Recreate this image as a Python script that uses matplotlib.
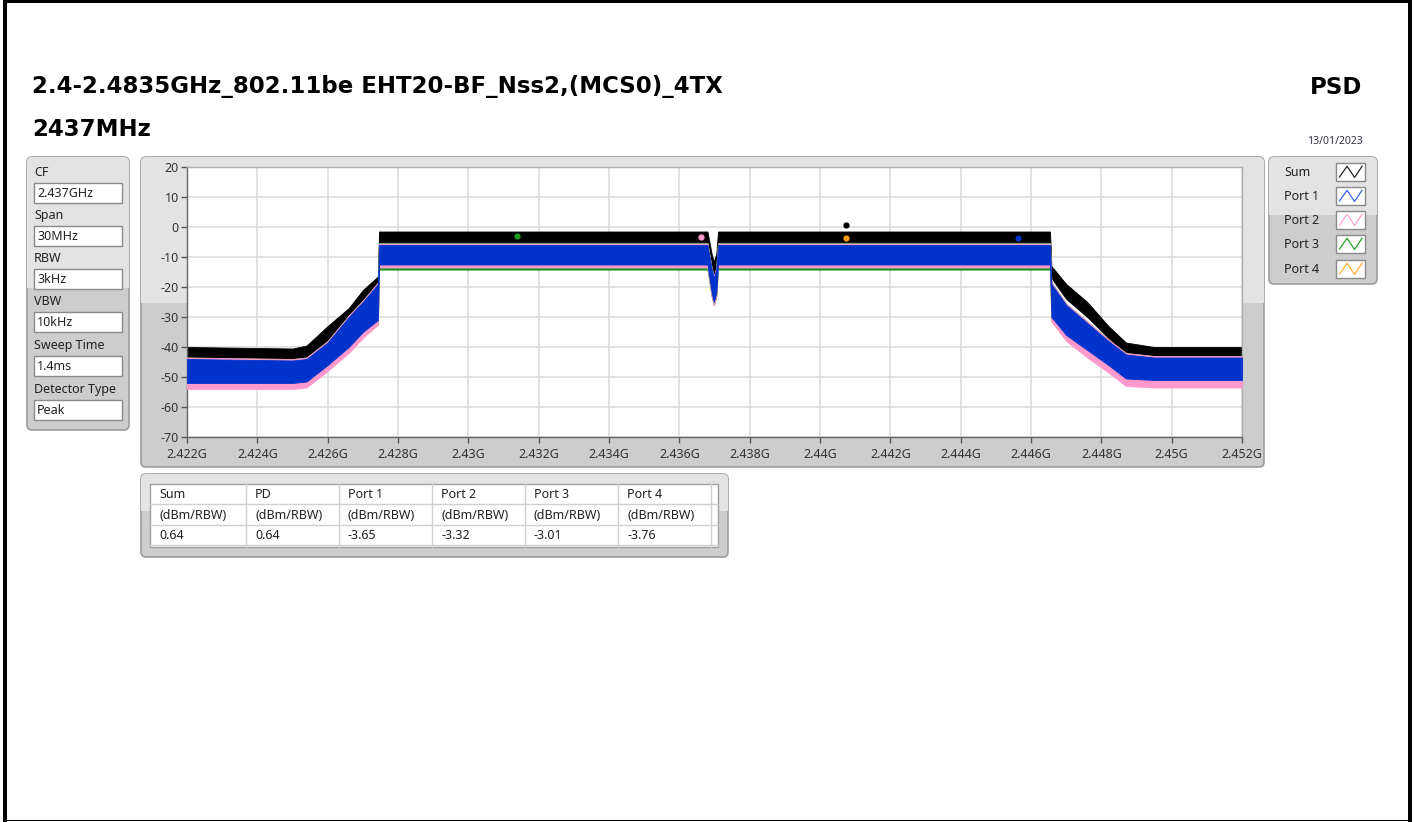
import matplotlib
matplotlib.use("Agg")
import matplotlib.pyplot as plt
from matplotlib.patches import FancyBboxPatch, Rectangle
import numpy as np

plt.rcParams['font.family'] = ['Noto Sans', 'DejaVu Sans']
plt.rcParams['axes.unicode_minus'] = False

W, H = 1415, 822

#########  data  #########
title1 = "2.4-2.4835GHz_802.11be EHT20-BF_Nss2,(MCS0)_4TX"
title2 = "2437MHz"
date_txt = "13/01/2023"

set_names = ["CF", "Span", "RBW", "VBW", "Sweep Time", "Detector Type"]
set_values = ["2.437GHz", "30MHz", "3kHz", "10kHz", "1.4ms", "Peak"]

trace_names = ["Sum", "Port 1", "Port 2", "Port 3", "Port 4"]

# envelope of each noisy trace (upper / lower, dBm) at frequency breakpoints (GHz)
freq_ghz = [2.4220, 2.4250, 2.4254, 2.4260, 2.4266, 2.4270, 2.42743, 2.42746, 2.4368,
            2.43692, 2.43698, 2.43705, 2.4371, 2.44654, 2.44658, 2.4470,
            2.4476, 2.4482, 2.4487, 2.4495, 2.4520]
sum_hi = [-40, -40.5, -39.5, -33, -27, -21, -16.5, -1.5, -1.5, -9, -11.5, -9, -1.5,
          -1.5, -13, -19, -25, -33, -38.5, -40, -40]
sum_lo = [-45.5, -45.5, -44.5, -38.5, -32, -26.5, -21.5, -5, -5, -14, -17, -14, -5,
          -5, -17, -24, -30, -37, -42.5, -44, -44]
p1_hi = [-44, -44.5, -44, -38.5, -30, -25, -19, -6, -6, -14, -17, -14, -6,
         -6, -19, -26, -32, -38, -42.5, -43.5, -43.5]
p1_lo = [-52, -52, -51.5, -46, -40, -35, -31, -12.5, -12.5, -22, -25, -22, -12.5,
         -12.5, -30, -36, -41, -46, -50.5, -51, -51]
p2_hi = [-43.5, -44, -43.5, -38, -29.5, -24.5, -18.5, -5.5, -5.5, -13.5, -16.5, -13.5, -5.5,
         -5.5, -18.5, -25.5, -31.5, -37.5, -42, -43, -43]
p2_lo = [-54, -54, -53.5, -48, -42, -37, -32.5, -13.5, -13.5, -23, -26, -23, -13.5,
         -13.5, -31.5, -38, -43.5, -48.5, -53, -53.5, -53.5]
p3_hi = [-43.5, -44, -43.5, -38, -29.5, -24.5, -18.5, -5.3, -5.3, -13.5, -16.5, -13.5, -5.3,
         -5.3, -18.5, -25.5, -31.5, -37.5, -42, -43, -43]
p3_lo = [-53, -53, -52.5, -47, -41, -36, -32, -14.2, -14.2, -23, -26, -23, -14.2,
         -14.2, -31, -37, -42.5, -47.5, -52, -52.5, -52.5]
p4_hi = [-44, -44.5, -44, -38.5, -30, -25, -19, -5.5, -5.5, -14, -17, -14, -5.5,
         -5.5, -19, -26, -32, -38, -42.5, -43.5, -43.5]
p4_lo = [-53.5, -53.5, -53, -47.5, -41.5, -36.5, -32.5, -14, -14, -23, -26, -23, -14,
         -14, -31.5, -37.5, -43, -48, -52.5, -53, -53]

# peak markers
peak_freq = [2.44073, 2.44564, 2.43663, 2.43137, 2.44073]
peak_val = [0.64, -3.65, -3.32, -3.01, -3.76]

# result table
tab_head = ["Sum", "PD", "Port 1", "Port 2", "Port 3", "Port 4"]
tab_unit = ["(dBm/RBW)"] * 6
tab_vals = ["0.64", "0.64", "-3.65", "-3.32", "-3.01", "-3.76"]

x_ticks = [2.422, 2.424, 2.426, 2.428, 2.43, 2.432, 2.434, 2.436, 2.438,
           2.44, 2.442, 2.444, 2.446, 2.448, 2.45, 2.452]
x_ticklabels = ["2.422G", "2.424G", "2.426G", "2.428G", "2.43G", "2.432G", "2.434G",
                "2.436G", "2.438G", "2.44G", "2.442G", "2.444G", "2.446G", "2.448G",
                "2.45G", "2.452G"]
y_ticks = [20, 10, 0, -10, -20, -30, -40, -50, -60, -70]

colors = ["#000000", "#0033cc", "#ff99cc", "#1a9a1a", "#ff9a1a"]
icon_colors = ["#222222", "#3a66e0", "#ffa3d4", "#2aa02a", "#ffaa33"]

#########  figure  #########
fig = plt.figure(figsize=(W / 100, H / 100), dpi=100)
bg = fig.add_axes([0, 0, 1, 1])
bg.set_xlim(0, W)
bg.set_ylim(H, 0)
bg.axis("off")

# outer frame
bg.add_patch(Rectangle((3, 0), 4, H, color="black", lw=0))
bg.add_patch(Rectangle((1408, 0), 4, H, color="black", lw=0))
bg.add_patch(Rectangle((3, 0.5), 1409, 2.5, color="black", lw=0))
bg.add_patch(Rectangle((3, 819.5), 1409, 1.5, color="black", lw=0))


def panel(x0, y0, x1, y1, split=0.47):
    p = FancyBboxPatch((x0, y0), x1 - x0, y1 - y0,
                       boxstyle="round,pad=0,rounding_size=5",
                       fc="#cdcdcd", ec="#9c9c9c", lw=1.2, zorder=1)
    bg.add_patch(p)
    top = Rectangle((x0, y0), x1 - x0, (y1 - y0) * split, fc="#e3e3e3", lw=0, zorder=1.1)
    bg.add_patch(top)
    top.set_clip_path(p)


# titles
tfont = dict(fontsize=16.5, fontweight="bold", family=["DejaVu Sans"])
bg.text(32, 87, title1, va="center", ha="left", **tfont)
bg.text(32, 130, title2, va="center", ha="left", **tfont)
bg.text(1362, 87, "PSD", va="center", ha="right", **tfont)
bg.text(1363, 141, date_txt, fontsize=7.5, va="center", ha="right", color="#333344")

# settings panel
panel(27, 157, 129, 430, split=0.48)
label_y = [172, 215, 258, 301, 345, 389]
for name, val, ly in zip(set_names, set_values, label_y):
    bg.text(34, ly, name, fontsize=9, va="center", ha="left", color="#222222", zorder=3)
    bg.add_patch(Rectangle((34, ly + 11), 88, 20, fc="white", ec="#8a8a8a", lw=1, zorder=2))
    bg.text(37, ly + 21.5, val, fontsize=9, va="center", ha="left", color="#222222", zorder=3)

# legend panel
panel(1269, 157, 1377, 284, split=0.46)
leg_y = [172, 196, 220, 244, 269]
for name, c, ly in zip(trace_names, icon_colors, leg_y):
    bg.text(1284, ly, name, fontsize=9, va="center", ha="left", color="#222222", zorder=3)
    bg.add_patch(Rectangle((1336, ly - 9), 29, 18, fc="white", ec="#8a8a8a", lw=1, zorder=2))
    zx = 1336 + np.array([0.12, 0.38, 0.64, 0.9]) * 29
    zy = ly + np.array([0.28, -0.32, 0.3, -0.32]) * 18
    bg.plot(zx, zy, color=c, lw=0.9, zorder=3)

# main plot panel
panel(141, 157, 1264, 467, split=0.47)

# table panel
panel(141, 474, 728, 557, split=0.45)
bg.add_patch(Rectangle((150, 484), 568, 63, fc="white", ec="#a0a0a0", lw=1, zorder=2))
col_x = [150, 246, 339, 432, 525, 618, 711]
for cx in col_x[1:]:
    bg.plot([cx, cx], [484, 547], color="#d0d0d0", lw=1, zorder=2.5)
for ry in [504, 525, 545]:
    bg.plot([150, 718], [ry, ry], color="#d0d0d0", lw=1, zorder=2.5)
for i in range(6):
    tx = col_x[i] + 9
    bg.text(tx, 494, tab_head[i], fontsize=9, va="center", ha="left", color="#222222", zorder=3)
    bg.text(tx, 515, tab_unit[i], fontsize=9, va="center", ha="left", color="#222222", zorder=3)
    bg.text(tx, 535, tab_vals[i], fontsize=9, va="center", ha="left", color="#222222", zorder=3)

# spectrum axes
ax = fig.add_axes([187 / W, 1 - 437 / H, (1242 - 187) / W, (437 - 167) / H])
ax.set_zorder(5)
ax.set_facecolor("white")
ax.set_xlim(2.422, 2.452)
ax.set_ylim(-70, 20)

his = [sum_hi, p1_hi, p2_hi, p3_hi, p4_hi]
los = [sum_lo, p1_lo, p2_lo, p3_lo, p4_lo]
order = [0, 4, 3, 2, 1]  # Sum first, Port 1 on top
for k, idx in enumerate(order):
    ax.fill_between(freq_ghz, los[idx], his[idx], color=colors[idx], lw=0.6,
                    edgecolor=colors[idx], zorder=2 + k)

for idx in [0, 4, 3, 2, 1]:
    ax.plot(peak_freq[idx], peak_val[idx], "o", ms=4.5, color=colors[idx],
            mew=0, zorder=10)

ax.set_xticks(x_ticks)
ax.set_xticklabels(x_ticklabels)
ax.set_yticks(y_ticks)
ax.set_yticklabels([str(v) for v in y_ticks])
ax.grid(True, color="#dadada", lw=1.1)
ax.set_axisbelow(True)
ax.tick_params(axis="both", length=4, width=1, color="#555555", labelsize=9,
               labelcolor="#333333", pad=2)
ax.tick_params(axis="x", pad=4)
for s in ax.spines.values():
    s.set_color("#b0b0b0")
    s.set_linewidth(1)
ax.spines["left"].set_color("#666666")
ax.spines["bottom"].set_color("#666666")

fig.savefig("out.png", dpi=100)
